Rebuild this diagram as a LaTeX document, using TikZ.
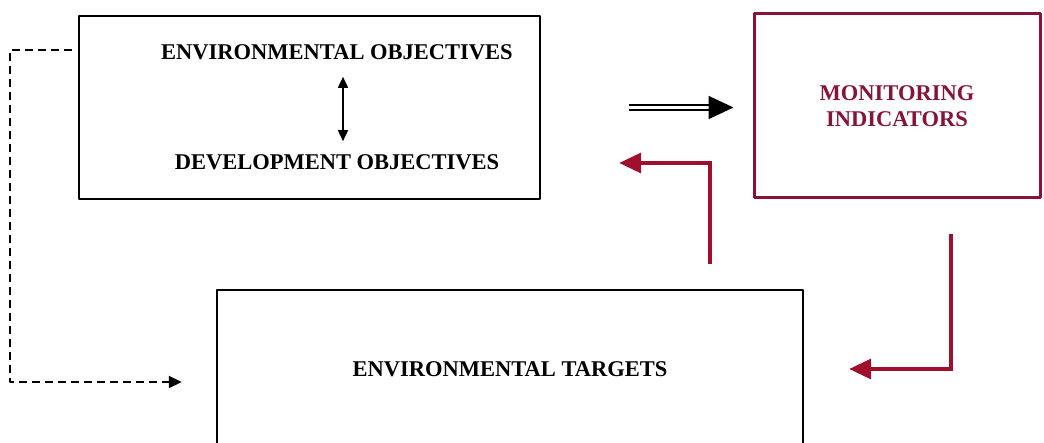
\documentclass[tikz,border=0pt]{standalone}
\usepackage{fontspec}
\setmainfont{Liberation Serif}
\usetikzlibrary{arrows.meta}
\definecolor{boxred}{RGB}{135,20,55}
\definecolor{arrred}{RGB}{160,15,45}
\tikzset{
	box/.style={draw,rectangle,line width=2.4pt,inner sep=0pt},
	lbl/.style={font=\fontsize{22.5}{26}\selectfont\bfseries,inner sep=3pt},
	redarrow/.style={draw=arrred,line width=3.6pt,line join=miter,-{Triangle[length=22pt,width=20pt]}}
}
\begin{document}
\begin{tikzpicture}[x=1pt,y=-1pt,line join=round]
			\useasboundingbox (0,0) rectangle (1044,443);
			\clip (0,0) rectangle (1044,443);
			% boxes
			\node[box,minimum width=461pt,minimum height=183pt](objbox) at (309.5,107.5){};
			\node[box,draw=boxred,line width=3pt,minimum width=286pt,minimum height=184pt,text=boxred,lbl,align=center](monbox) at (897,106){MONITORING\\INDICATORS};
			\node[box,minimum width=586pt,minimum height=158pt](tgtbox) at (510,369){};
			\node[lbl](tgt) at (tgtbox.center){ENVIRONMENTAL TARGETS};
			% texts in the first box
			\node[lbl](envobj) at (337,52){ENVIRONMENTAL OBJECTIVES};
			\node[lbl](devobj) at (337,162){DEVELOPMENT OBJECTIVES};
			\draw[line width=1.6pt,{Triangle[length=11pt,width=10pt]}-{Triangle[length=11pt,width=10pt]},shorten <=14pt,shorten >=10pt] ([xshift=6pt]envobj.south) -- ([xshift=6pt]devobj.north);
			% connectors
			\draw[double,double distance=2.6pt,line width=1.8pt,-{Triangle[length=25pt,width=23pt]},shorten <=88pt,shorten >=19pt] (objbox.east) -- (monbox.west |- objbox.east);
			\coordinate(upturn) at (710,163);
			\draw[redarrow] (tgtbox.north -| upturn) ++(0,-25) |- ([xshift=78pt]objbox.east |- upturn);
			\coordinate(downturn) at (951,368);
			\draw[redarrow] (monbox.south -| downturn) ++(0,35) |- ([xshift=45pt]tgtbox.east);
			\coordinate(dashcorner) at (10,382);
			\draw[line width=1.8pt,dash pattern=on 8pt off 5pt,-{Triangle[length=13pt,width=12pt]}] ([xshift=-6pt]objbox.west |- 0,50) -| (dashcorner) -- ([xshift=-34pt,yshift=-13pt]tgtbox.west);
\end{tikzpicture}
\end{document}
